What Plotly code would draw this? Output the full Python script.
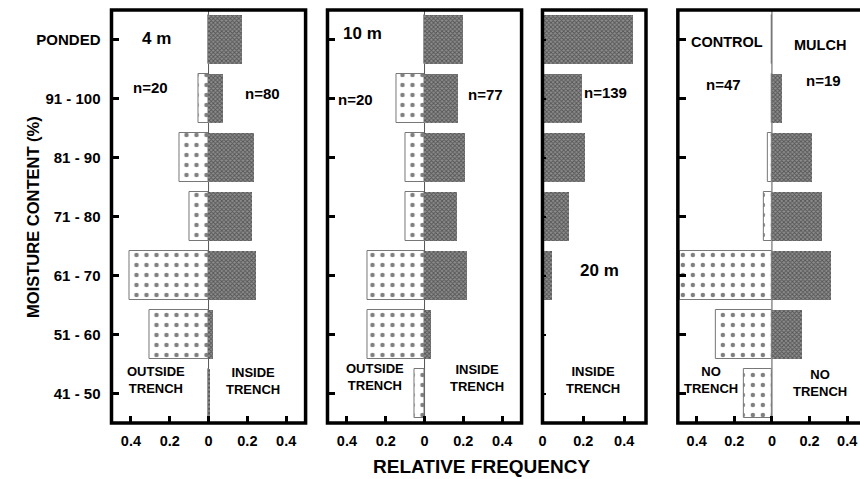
import plotly.graph_objects as go

categories = ["PONDED", "91 - 100", "81 - 90", "71 - 80", "61 - 70", "51 - 60", "41 - 50"]

# Panel 1 (4 m)
p1_outside = [0.0, 0.05, 0.15, 0.10, 0.405, 0.305, 0.0]
p1_inside = [0.175, 0.075, 0.235, 0.225, 0.248, 0.024, 0.012]
# Panel 2 (10 m)
p2_outside = [0.0, 0.145, 0.097, 0.097, 0.296, 0.296, 0.05]
p2_inside = [0.20, 0.173, 0.21, 0.17, 0.22, 0.038, 0.0]
# Panel 3 (20 m) inside only
p3_inside = [0.445, 0.194, 0.21, 0.13, 0.05, 0.005, 0.0]
# Panel 4 (control / mulch)
p4_control = [0.0, 0.0, 0.023, 0.042, 0.487, 0.296, 0.151]
p4_mulch = [0.0, 0.053, 0.21, 0.263, 0.314, 0.157, 0.0]

sym_ticks = [-0.4, -0.2, 0, 0.2, 0.4]
sym_text = ["0.4", "0.2", "0", "0.2", "0.4"]
one_ticks = [0, 0.2, 0.4]
one_text = ["0", "0.2", "0.4"]

W, H = 860, 479
FONT = "Liberation Sans, Arial, sans-serif"

def px_x(v):
    return v / W

def px_y(v):
    return 1 - v / H

ydom = [px_y(423), px_y(10)]
domains = [[px_x(108), px_x(303)], [px_x(325), px_x(520)], [px_x(541), px_x(645)], [px_x(677), 1.0]]
xranges = [[-0.5, 0.5], [-0.5, 0.5], [0, 0.507], [-0.5, 0.468]]

dark = dict(color="#6e6e6e", line=dict(width=0),
            pattern=dict(shape="x", fgcolor="#1a1a1a", bgcolor="#8e8e8e", size=3, solidity=0.5))
light = dict(color="white", line=dict(width=1, color="#777"),
             pattern=dict(shape=".", fgcolor="black", bgcolor="white", size=10, solidity=0.16))

fig = go.Figure()

def add_bars(vals, axis_idx, style, negative=False):
    xs = [-v for v in vals] if negative else vals
    sfx = "" if axis_idx == 1 else str(axis_idx)
    fig.add_trace(go.Bar(y=categories, x=xs, orientation="h", width=0.83,
                         marker=style, xaxis="x" + sfx, yaxis="y" + sfx,
                         showlegend=False, hoverinfo="x+y"))

add_bars(p1_outside, 1, light, True)
add_bars(p1_inside, 1, dark)
add_bars(p2_outside, 2, light, True)
add_bars(p2_inside, 2, dark)
add_bars(p3_inside, 3, dark)
add_bars(p4_control, 4, light, True)
add_bars(p4_mulch, 4, dark)

layout = dict(
    width=W, height=H, margin=dict(l=0, r=0, t=0, b=0),
    paper_bgcolor="white", plot_bgcolor="white",
    barmode="overlay", bargap=0,
    font=dict(family=FONT, size=13, color="black"),
)

for i in range(4):
    sfx = "" if i == 0 else str(i + 1)
    tv, tt = (one_ticks, one_text) if i == 2 else (sym_ticks, sym_text)
    layout["xaxis" + sfx] = dict(
        domain=domains[i], range=xranges[i], anchor="y" + sfx,
        tickvals=tv, ticktext=tt, ticks="inside", ticklen=7, tickwidth=3,
        tickcolor="black", showgrid=False, zeroline=False, showline=False,
        ticklabelstandoff=7,
        tickfont=dict(family=FONT, size=14.5, color="black", weight="bold"),
        fixedrange=True,
    )
    layout["yaxis" + sfx] = dict(
        domain=ydom, anchor="x" + sfx, type="category",
        categoryarray=categories, range=[6.5, -0.5],
        ticks="inside", ticklen=8 if i != 2 else 4, tickwidth=3 if i != 2 else 2,
        tickcolor="black", showgrid=False, zeroline=False, showline=False,
        showticklabels=(i == 0), ticklabelstandoff=10,
        tickfont=dict(family=FONT, size=15, color="black", weight="bold"),
        fixedrange=True,
    )

fig.update_layout(**layout)

# Panel borders and zero lines
for i in range(4):
    sfx = "" if i == 0 else str(i + 1)
    x1 = 1.0 if i != 3 else 1.15
    fig.add_shape(type="rect", xref="x" + sfx + " domain", yref="y" + sfx + " domain",
                  x0=0, x1=x1, y0=0, y1=1, line=dict(color="black", width=3.5),
                  fillcolor="rgba(0,0,0,0)", layer="above")
    if i != 2:
        fig.add_shape(type="line", xref="x" + sfx, yref="y" + sfx + " domain",
                      x0=0, x1=0, y0=0, y1=1, line=dict(color="#555", width=1), layer="below")

def ann(text, x, y, size=15):
    fig.add_annotation(text=text, x=px_x(x), y=px_y(y), xref="paper", yref="paper",
                       showarrow=False, font=dict(family=FONT, size=size, color="black", weight="bold"),
                       xanchor="center", yanchor="middle")

ann("4 m", 153, 38, 17)
ann("n=20", 147, 87)
ann("n=80", 260, 93)
ann("OUTSIDE<br>TRENCH", 153, 380, 13)
ann("INSIDE<br>TRENCH", 250, 381, 13)
ann("10 m", 360, 33, 17)
ann("n=20", 353, 99)
ann("n=77", 484, 94)
ann("OUTSIDE<br>TRENCH", 373, 377, 13)
ann("INSIDE<br>TRENCH", 475, 378, 13)
ann("n=139", 604, 92)
ann("20 m", 598, 270, 17)
ann("INSIDE<br>TRENCH", 592, 380, 13)
ann("CONTROL", 726, 42, 14.5)
ann("MULCH", 820, 45, 14.5)
ann("n=47", 723, 84)
ann("n=19", 823, 80)
ann("NO<br>TRENCH", 710, 380, 13)
ann("NO<br>TRENCH", 820, 383, 13)
ann("RELATIVE FREQUENCY", 480, 466, 19)
fig.add_annotation(text="MOISTURE CONTENT (%)", x=px_x(18), y=px_y(217), xref="paper", yref="paper",
                   showarrow=False, textangle=-90,
                   font=dict(family=FONT, size=16.5, color="black", weight="bold"))

fig.write_html("out.html", config={"displayModeBar": False},
               post_script="document.body.style.margin='0';document.body.style.padding='0';")
